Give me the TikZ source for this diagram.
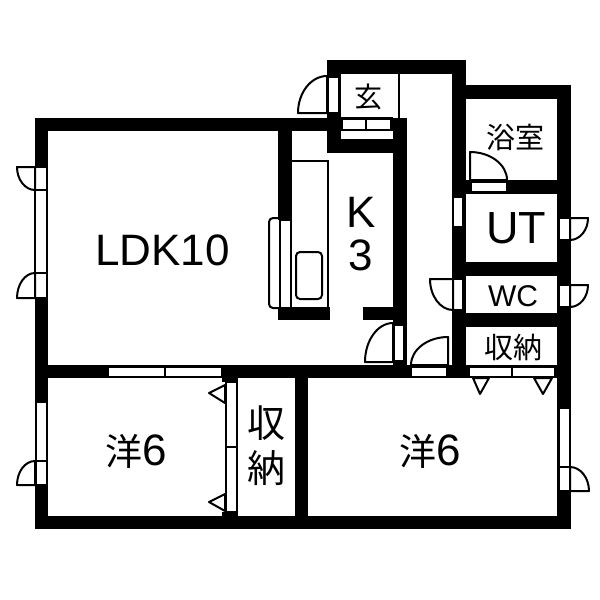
\documentclass[tikz,border=0pt]{standalone}
\usepackage{fontspec}
\setmainfont{Liberation Sans}
\newfontfamily\cjkfont{Noto Sans CJK JP}
\usetikzlibrary{calc}
\tikzset{
  wall/.style={fill=black,draw=none},
  glaze/.style={fill=white,draw=black,line width=1pt},
  thin line/.style={draw=black,line width=1pt},
  label/.style={inner sep=0pt,text=black},
  latin/.style={label,font=\fontsize{#1}{#1}\selectfont},
  jp/.style={label,font=\cjkfont\fontsize{#1}{#1}\selectfont},
}
\newcommand{\wl}[4]{\fill[wall] (#1,#2) rectangle (#3,#4);}
\newcommand{\gl}[4]{\draw[glaze] (#1,#2) rectangle (#3,#4);}
% hinge, end of line one, end of line two
\newcommand{\door}[3]{\draw[thin line,line join=round]
  (#1) -- (#2) .. controls ($(#2)!.55!($(#2)+(#3)-(#1)$)$) and ($(#3)!.55!($(#2)+(#3)-(#1)$)$) .. (#3) -- cycle;}
\begin{document}
\begin{tikzpicture}[x=0.5pt,y=-0.5pt]
\useasboundingbox (0,0) rectangle (600,600);
\fill[white] (0,0) rectangle (600,600);
% outer and inner walls
\wl{35}{118}{48}{529}
\wl{35}{516}{571}{529}
\wl{35}{118}{340}{131}
\wl{327}{60}{341}{153}
\wl{327}{60}{466}{74}
\wl{327}{139}{407}{153}
\wl{393}{118}{407}{378}
\wl{330}{118}{407}{131}
\wl{452}{60}{466}{378}
\wl{452}{85}{571}{99}
\wl{557}{85}{571}{529}
\wl{452}{180}{571}{194}
\wl{452}{262}{571}{276}
\wl{452}{313}{571}{327}
\wl{35}{365}{571}{378}
\wl{295}{365}{308}{529}
\wl{222}{365}{238}{382}
\wl{222}{512}{238}{529}
\wl{278}{131}{292}{220}
\wl{278}{307}{330}{320}
\wl{363}{307}{407}{320}
% kitchen fittings
\draw[thin line] (292,161) -- (328,161) -- (328,307);
\draw[thin line,rounded corners=2pt] (296,252) rectangle (322,299);
\fill[white] (278,220) rectangle (291,307);
\draw[thin line] (280,220) -- (280,307);
\draw[thin line] (291,220) -- (291,307);
\draw[thin line] (280,220) -- (291,220);
\draw[thin line,rounded corners=2pt] (280,218) -- (269,218) -- (269,308) -- (280,308);
% entrance
\draw[thin line] (399,74) -- (399,118);
\draw[thin line] (341,118) -- (393,118);
\gl{342}{119}{366}{130}
\gl{366}{119}{391}{130}
\fill[white] (341,132) rectangle (393,139);
\gl{328}{77}{339}{113}
\door{327,113}{298,113}{327,76}
% bath
\gl{471}{182}{507}{192}
\door{470,180}{470,152}{507,180}
% side openings of the corridor
\gl{453}{197}{463}{227}
\gl{453}{279}{463}{310}
\door{453,279}{430,279}{453,310}
\gl{559}{218}{570}{240}
\door{570,218}{588,218}{570,240}
\gl{559}{285}{570}{307}
\door{570,285}{588,285}{570,307}
% kitchen door
\gl{394}{325}{404}{361}
\door{393,362}{365,362}{393,323}
% corridor door
\gl{411}{367}{447}{377}
\door{448,365}{411,365}{448,337}
% closet by WC
\gl{469}{367}{512}{377}
\gl{512}{367}{555}{377}
\draw[thin line,line join=round] (473,378) -- (480,394) -- (489,378) -- cycle;
\draw[thin line,line join=round] (534,378) -- (543,394) -- (552,378) -- cycle;
% LDK window and door leaves
\gl{35}{167}{47}{298}
\draw[thin line] (35,190) -- (47,190) (35,273) -- (47,273);
\door{35,167}{17,167}{35,190}
\door{35,298}{17,298}{35,273}
% LDK sliding door
\gl{108}{367}{165}{377}
\gl{165}{367}{222}{377}
% west room
\gl{36}{402}{47}{485}
\draw[thin line] (36,461) -- (47,461);
\door{35,485}{17,485}{35,461}
% closet doors
\gl{226}{382}{237}{447}
\gl{226}{447}{237}{512}
\draw[thin line,line join=round] (225,385) -- (209,393) -- (225,403) -- cycle;
\draw[thin line,line join=round] (225,494) -- (209,502) -- (225,511) -- cycle;
% east room
\gl{559}{408}{570}{491}
\draw[thin line] (559,467) -- (570,467);
\door{570,491}{589,491}{570,467}
% labels
\node[latin=22pt] (ldk) at (162.5,250) {LDK10};
\node[latin=22pt] (k) at (361,212) {K};
\node[latin=22pt] (three) at (361,255) {3};
\node[latin=22.5pt] (ut) at (516,228) {UT};
\node[latin=15pt] (wc) at (513,296) {WC};
\node[jp=14pt] (gen) at (368.5,97) {玄};
\node[jp=14.5pt] (bath) at (515.5,137) {浴室};
\node[jp=14.5pt] (sto1) at (513,347) {収納};
\node[jp=19pt] (sto2a) at (266.5,423) {収};
\node[jp=19pt] (sto2b) at (266.5,468) {納};
\node[label] (west) at (136.5,451) {{\cjkfont\fontsize{18.5pt}{18.5pt}\selectfont 洋}{\fontsize{22pt}{22pt}\selectfont 6}};
\node[label] (east) at (430,451) {{\cjkfont\fontsize{18.5pt}{18.5pt}\selectfont 洋}{\fontsize{22pt}{22pt}\selectfont 6}};
\end{tikzpicture}
\end{document}
